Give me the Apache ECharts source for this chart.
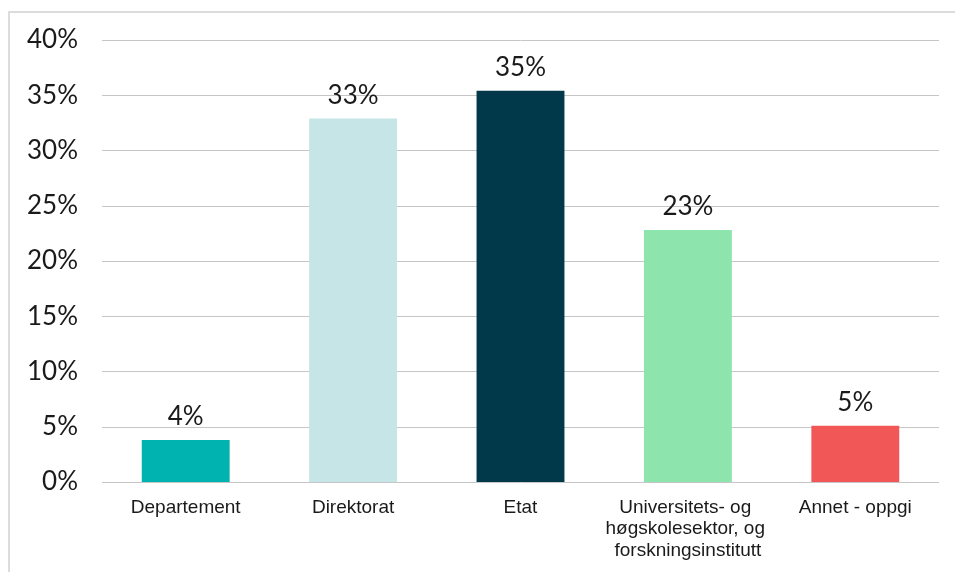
<!DOCTYPE html>
<html>
<head>
<meta charset="utf-8">
<script src="https://cdn.jsdelivr.net/npm/echarts@6/dist/echarts.min.js"></script>
<style>
  html, body { margin: 0; padding: 0; background: #ffffff; }
  #chart { width: 955px; height: 572px; }
</style>
</head>
<body>
<div id="chart"></div>
<script>
// Categories (type of organisation) and share of respondents, in percent
const categories = [
  'Departement',
  'Direktorat',
  'Etat',
  'Universitets- og høgskolesektor, og forskningsinstitutt',
  'Annet - oppgi'
];
const shares = [3.8, 32.9, 35.4, 22.8, 5.1];
const barColors = ['#00b3b0', '#c5e5e6', '#02394a', '#8de4ad', '#f25758'];
const yTicks = { min: 0, max: 40, interval: 5 };

const chart = echarts.init(document.getElementById('chart'), null, { renderer: 'canvas' });

const numberFont = 'Lato, "Noto Sans", sans-serif';
const textFont = '"Liberation Sans", Arial, sans-serif';

chart.setOption({
  animation: false,
  backgroundColor: '#ffffff',
  graphic: [
    {
      type: 'polyline',
      silent: true,
      shape: { points: [[9, 572], [9, 12], [955, 12]] },
      style: { stroke: '#dcdcdc', lineWidth: 2, fill: null }
    }
  ],
  grid: {
    left: 102, right: 16, top: 40, bottom: 90,
    containLabel: false,
    outerBoundsMode: 'none'
  },
  xAxis: {
    type: 'category',
    data: categories,
    axisLine: { show: false },
    axisTick: { show: false },
    axisLabel: {
      interval: 0,
      margin: 15,
      color: '#1a1a1a',
      fontFamily: textFont,
      fontSize: 19,
      lineHeight: 21.5,
      width: 185,
      overflow: 'break',
      hideOverlap: false
    }
  },
  yAxis: {
    type: 'value',
    min: yTicks.min,
    max: yTicks.max,
    interval: yTicks.interval,
    axisLine: { show: false },
    axisTick: { show: false },
    splitLine: { lineStyle: { color: '#c6c6c6', width: 1 } },
    axisLabel: {
      margin: 24,
      color: '#1a1a1a',
      fontFamily: numberFont,
      fontSize: 26,
      formatter: v => v + '%'
    }
  },
  series: [
    {
      type: 'bar',
      data: shares.map((v, i) => ({ value: v, itemStyle: { color: barColors[i] } })),
      barWidth: '52.5%',
      label: {
        show: true,
        position: 'top',
        distance: 10,
        color: '#1a1a1a',
        fontFamily: numberFont,
        fontSize: 26,
        formatter: p => Math.round(p.value) + '%'
      }
    }
  ]
});
</script>
</body>
</html>
